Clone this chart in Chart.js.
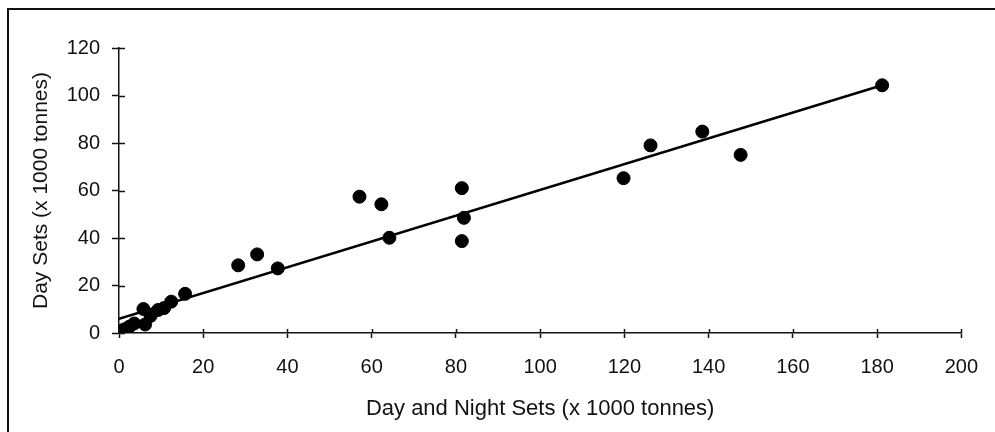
<!DOCTYPE html>
<html>
<head>
<meta charset="utf-8">
<script src="https://cdn.jsdelivr.net/npm/chart.js@4"></script>
<style>
  html, body { margin: 0; padding: 0; background: #fff; overflow: hidden; }
  #wrap { position: relative; width: 995px; height: 432px; }
  #frame {
    position: absolute; left: 7px; top: 8px; width: 1000px; height: 500px;
    border-top: 2px solid #111; border-left: 2px solid #111;
  }
  canvas { position: absolute; left: 0; top: 0; }
</style>
</head>
<body>
<div id="wrap">
  <div id="frame"></div>
  <canvas id="scatter" width="995" height="432"></canvas>
</div>
<script>
// day+night sets vs day sets (x 1000 tonnes)
const allSets = [0.3, 1.2, 2.4, 3.6, 5.8, 6.2, 7.5, 9.3, 10.7, 12.4, 15.7,
  28.3, 32.8, 37.7, 57.1, 62.3, 64.2, 81.4, 81.9, 81.4,
  119.8, 126.2, 138.5, 147.6, 181.2];
const daySets = [0.6, 1.5, 2.6, 4.0, 10.1, 3.6, 7.2, 9.7, 10.5, 13.2, 16.5,
  28.5, 33.1, 27.2, 57.4, 54.2, 40.1, 61.0, 48.5, 38.7,
  65.2, 79.0, 84.8, 75.0, 104.3];

// fitted trend line, end points as drawn
const trendX = [0, 181.2];
const trendY = [6.0, 104.3];

const xTicks = [0, 20, 40, 60, 80, 100, 120, 140, 160, 180, 200];
const yTicks = [0, 20, 40, 60, 80, 100, 120];

const FONT = "'Liberation Sans', Arial, Helvetica, sans-serif";

// inner halves of the tick marks (chart.js only draws the outer half)
const crossTicks = {
  id: "crossTicks",
  afterDraw(chart) {
    const { ctx, scales } = chart;
    const xs = scales.x, ys = scales.y;
    ctx.save();
    ctx.strokeStyle = "#111";
    ctx.lineWidth = 1.5;
    ctx.beginPath();
    xTicks.forEach((v) => {
      const px = Math.round(xs.getPixelForValue(v)) + 0.5;
      ctx.moveTo(px, ys.bottom - 4);
      ctx.lineTo(px, ys.bottom);
    });
    yTicks.forEach((v) => {
      const py = Math.round(ys.getPixelForValue(v)) + 0.5;
      ctx.moveTo(xs.left, py);
      ctx.lineTo(xs.left + 6, py);
    });
    ctx.stroke();
    ctx.restore();
  },
};

new Chart(document.getElementById("scatter"), {
  type: "scatter",
  data: {
    datasets: [
      {
        label: "Sets",
        data: allSets.map((x, i) => ({ x: x, y: daySets[i] })),
        backgroundColor: "#000",
        borderColor: "#000",
        pointRadius: 6.5,
        pointHoverRadius: 6.5,
        order: 1,
      },
      {
        type: "line",
        label: "Trend",
        data: trendX.map((x, i) => ({ x: x, y: trendY[i] })),
        borderColor: "#000",
        borderWidth: 2.5,
        pointRadius: 0,
        fill: false,
        order: 2,
      },
    ],
  },
  options: {
    responsive: false,
    animation: false,
    events: [],
    layout: { padding: { left: 10, right: 33, top: 48, bottom: 10 } },
    plugins: {
      legend: { display: false },
      tooltip: { enabled: false },
    },
    scales: {
      x: {
        type: "linear",
        min: 0,
        max: 200,
        afterBuildTicks: (s) => { s.ticks = xTicks.map((v) => ({ value: v })); },
        afterFit: (s) => { s.height = 89; },
        border: { display: true, color: "#111", width: 1.5 },
        grid: { drawOnChartArea: false, drawTicks: true, tickLength: 5, tickColor: "#111", tickWidth: 1.5 },
        ticks: { color: "#111", padding: 17, font: { family: FONT, size: 20 }, maxRotation: 0 },
        title: {
          display: true,
          text: "Day and Night Sets (x 1000 tonnes)",
          color: "#111",
          font: { family: FONT, size: 22 },
          padding: { top: 10, bottom: 0 },
        },
      },
      y: {
        type: "linear",
        min: 0,
        max: 120,
        afterBuildTicks: (s) => { s.ticks = yTicks.map((v) => ({ value: v })); },
        afterFit: (s) => { s.width = 109; },
        border: { display: true, color: "#111", width: 1.5 },
        grid: { drawOnChartArea: false, drawTicks: true, tickLength: 7, tickColor: "#111", tickWidth: 1.5 },
        ticks: { color: "#111", padding: 12, font: { family: FONT, size: 20 } },
        title: {
          display: true,
          text: "Day Sets (x 1000 tonnes)",
          color: "#111",
          font: { family: FONT, size: 21 },
          padding: { top: 19, bottom: 0 },
        },
      },
    },
  },
  plugins: [crossTicks],
});
</script>
</body>
</html>
